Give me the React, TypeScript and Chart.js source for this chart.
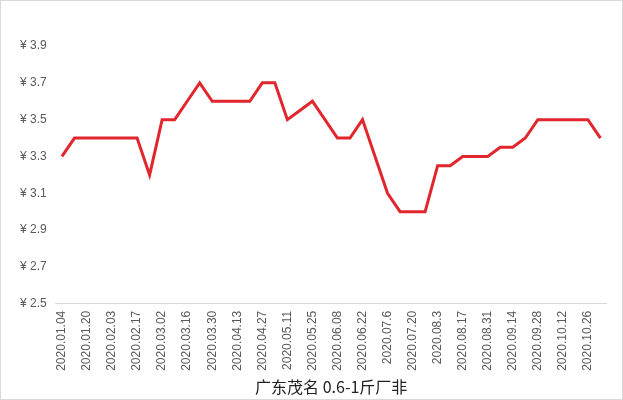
import React, { useEffect, useRef } from "react";
import { Chart, registerables } from "chart.js";

Chart.register(...registerables);

const categories: string[] = [
  "2020.01.04", "2020.01.13", "2020.01.20", "2020.01.27", "2020.02.03", "2020.02.10",
  "2020.02.17", "2020.02.24", "2020.03.02", "2020.03.09", "2020.03.16", "2020.03.23",
  "2020.03.30", "2020.04.06", "2020.04.13", "2020.04.20", "2020.04.27", "2020.05.04",
  "2020.05.11", "2020.05.18", "2020.05.25", "2020.06.01", "2020.06.08", "2020.06.15",
  "2020.06.22", "2020.06.29", "2020.07.6", "2020.07.13", "2020.07.20", "2020.07.27",
  "2020.08.3", "2020.08.10", "2020.08.17", "2020.08.24", "2020.08.31", "2020.09.07",
  "2020.09.14", "2020.09.21", "2020.09.28", "2020.10.05", "2020.10.12", "2020.10.19",
  "2020.10.26", "2020.11.02",
];

const prices: number[] = [
  3.3, 3.4, 3.4, 3.4, 3.4, 3.4, 3.4, 3.2, 3.5, 3.5, 3.6, 3.7,
  3.6, 3.6, 3.6, 3.6, 3.7, 3.7, 3.5, 3.55, 3.6, 3.5, 3.4, 3.4,
  3.5, 3.3, 3.1, 3.0, 3.0, 3.0, 3.25, 3.25, 3.3, 3.3, 3.3, 3.35,
  3.35, 3.4, 3.5, 3.5, 3.5, 3.5, 3.5, 3.4,
];

const axisTitle = "广东茂名 0.6-1斤厂非";
const yMin = 2.5;
const yMax = 3.9;
const yStep = 0.2;

export default function App() {
  const ref = useRef<HTMLCanvasElement | null>(null);

  useEffect(() => {
    if (!ref.current) return;
    const chart = new Chart(ref.current, {
      type: "line",
      data: {
        labels: categories,
        datasets: [
          {
            label: axisTitle,
            data: prices,
            borderColor: "#E1262D",
            backgroundColor: "#E1262D",
            borderWidth: 3,
            pointRadius: 0,
            tension: 0,
          },
        ],
      },
      options: {
        animation: false,
        responsive: false,
        maintainAspectRatio: false,
        layout: { padding: { left: 10, right: 14, top: 45, bottom: 2 } },
        plugins: {
          legend: { display: false },
          tooltip: { enabled: false },
        },
        scales: {
          x: {
            offset: true,
            grid: { display: false, drawTicks: false },
            border: { display: true, color: "#D9D9D9", width: 1 },
            ticks: {
              autoSkip: false,
              maxRotation: 90,
              minRotation: 90,
              padding: 7,
              color: "#595959",
              font: { family: "Liberation Sans", size: 12 },
              callback: (_v: any, i: number) => (i % 2 === 0 ? categories[i] : ""),
            },
            title: {
              display: true,
              text: axisTitle,
              color: "#222",
              font: { family: "Noto Sans CJK SC", size: 16 },
              padding: { top: 0, bottom: 0 },
            },
          },
          y: {
            min: yMin,
            max: yMax,
            grid: { display: false, drawTicks: false },
            border: { display: false },
            ticks: {
              stepSize: yStep,
              padding: 9,
              color: "#595959",
              font: { family: "Liberation Sans", size: 12 },
              callback: (v: any) => "¥ " + Number(v).toFixed(1),
            },
          },
        },
      },
    });
    return () => chart.destroy();
  }, []);

  return (
    <div
      style={{
        position: "fixed",
        left: 0,
        top: 0,
        width: 623,
        height: 400,
        boxSizing: "border-box",
        border: "1px solid #D9D9D9",
        background: "#fff",
      }}
    >
      <canvas ref={ref} width={621} height={398} style={{ display: "block" }} />
    </div>
  );
}
